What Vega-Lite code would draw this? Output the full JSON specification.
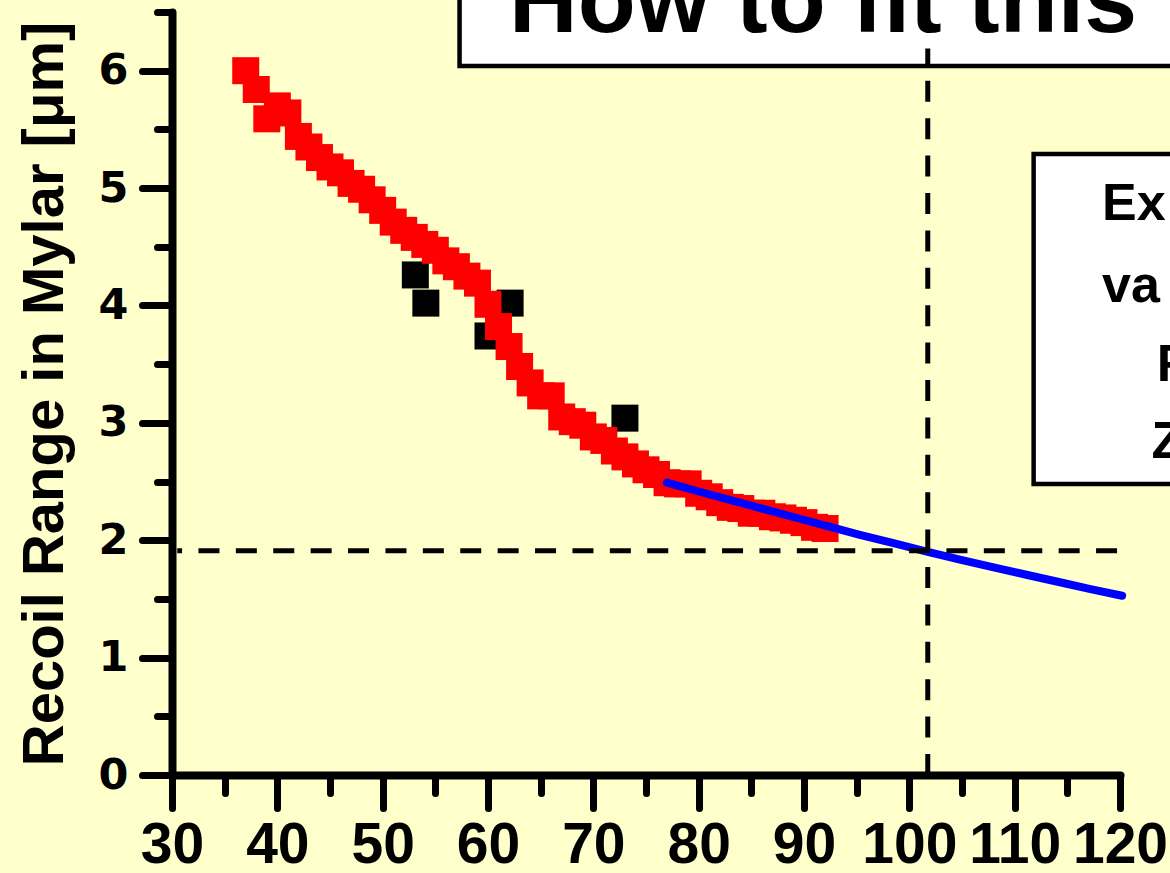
{
  "$schema": "https://vega.github.io/schema/vega-lite/v6.json",
  "width": 948,
  "height": 763,
  "autosize": {"type": "none"},
  "padding": {"left": 172, "top": 12, "right": 50, "bottom": 98},
  "background": "#FFFFCC",
  "config": {"view": {"stroke": null}, "axis": {"grid": false}},
  "datasets": {
    "red": [
      {"energy": 37, "range": 6.00}, {"energy": 38, "range": 5.84}, {"energy": 39, "range": 5.59}, {"energy": 40, "range": 5.70},
      {"energy": 41, "range": 5.64}, {"energy": 42, "range": 5.44}, {"energy": 43, "range": 5.35}, {"energy": 44, "range": 5.26},
      {"energy": 45, "range": 5.18}, {"energy": 46, "range": 5.13}, {"energy": 47, "range": 5.04}, {"energy": 48, "range": 4.99},
      {"energy": 49, "range": 4.90}, {"energy": 50, "range": 4.81}, {"energy": 51, "range": 4.71}, {"energy": 52, "range": 4.64},
      {"energy": 53, "range": 4.58}, {"energy": 54, "range": 4.52}, {"energy": 55, "range": 4.47}, {"energy": 56, "range": 4.38},
      {"energy": 57, "range": 4.33}, {"energy": 58, "range": 4.25}, {"energy": 59, "range": 4.19}, {"energy": 60, "range": 4.01},
      {"energy": 61, "range": 3.82}, {"energy": 62, "range": 3.65}, {"energy": 63, "range": 3.48}, {"energy": 64, "range": 3.34},
      {"energy": 65, "range": 3.23}, {"energy": 66, "range": 3.23}, {"energy": 67, "range": 3.05}, {"energy": 68, "range": 3.01},
      {"energy": 69, "range": 2.98}, {"energy": 70, "range": 2.88}, {"energy": 71, "range": 2.85}, {"energy": 72, "range": 2.76},
      {"energy": 73, "range": 2.71}, {"energy": 74, "range": 2.65}, {"energy": 75, "range": 2.60}, {"energy": 76, "range": 2.56},
      {"energy": 77, "range": 2.49}, {"energy": 78, "range": 2.48}, {"energy": 79, "range": 2.48}, {"energy": 80, "range": 2.40},
      {"energy": 81, "range": 2.37}, {"energy": 82, "range": 2.32}, {"energy": 83, "range": 2.28}, {"energy": 84, "range": 2.27},
      {"energy": 85, "range": 2.23}, {"energy": 86, "range": 2.23}, {"energy": 87, "range": 2.20}, {"energy": 88, "range": 2.19},
      {"energy": 89, "range": 2.17}, {"energy": 90, "range": 2.15}, {"energy": 91, "range": 2.11}, {"energy": 92, "range": 2.10}
    ],
    "black": [
      {"energy": 53.1, "range": 4.26}, {"energy": 54.1, "range": 4.02}, {"energy": 60.0, "range": 3.74},
      {"energy": 62.1, "range": 4.02}, {"energy": 73.0, "range": 3.04}
    ],
    "fit": [
      {"energy": 77.0, "range": 2.49}, {"energy": 80.0, "range": 2.415}, {"energy": 83.3, "range": 2.336}, {"energy": 86.5, "range": 2.258},
      {"energy": 89.6, "range": 2.183}, {"energy": 92.5, "range": 2.113}, {"energy": 95.3, "range": 2.046}, {"energy": 98.5, "range": 1.975},
      {"energy": 101.75, "range": 1.90}, {"energy": 104.8, "range": 1.835}, {"energy": 107.9, "range": 1.771}, {"energy": 111.0, "range": 1.708},
      {"energy": 114.3, "range": 1.642}, {"energy": 117.2, "range": 1.584}, {"energy": 120.2, "range": 1.527}
    ],
    "boxes": [
      {"x1": 57.3, "x2": 140, "y1": 6.04, "y2": 7.6},
      {"x1": 111.8, "x2": 140, "y1": 2.48, "y2": 5.29}
    ],
    "hline": [{"x1": 119.72, "x2": 30.5, "y": 1.91}],
    "vline": [{"x": 101.75, "y1": 0, "y2": 6.19}],
    "title": [{"x": 62.0, "y": 6.33, "t": "How to fit this"}],
    "boxtext": [
      {"x": 118.3, "y": 4.727, "t": "Ex"},
      {"x": 118.3, "y": 4.029, "t": "va"},
      {"x": 123.5, "y": 3.356, "t": "R"},
      {"x": 123.0, "y": 2.70, "t": "Z"}
    ]
  },
  "layer": [
    {
      "data": {"name": "black"},
      "mark": {"type": "square", "size": 729, "color": "#000000", "opacity": 1, "filled": true},
      "encoding": {
        "x": {"field": "energy", "type": "quantitative", "scale": {"domain": [30, 120], "nice": false, "zero": false},
          "axis": {"orient": "bottom", "values": [35, 45, 55, 65, 75, 85, 95, 105, 115], "tickSize": 18, "tickWidth": 7, "tickColor": "#000000", "tickCap": "round", "domain": false, "labels": false, "title": null}},
        "y": {"field": "range", "type": "quantitative", "scale": {"domain": [0, 6.5], "nice": false, "zero": false},
          "axis": {"orient": "left", "values": [0.5, 1.5, 2.5, 3.5, 4.5, 5.5, 6.5], "tickSize": 15, "tickWidth": 7, "tickColor": "#000000", "tickCap": "round", "domain": false, "labels": false, "title": null}}
      }
    },
    {
      "data": {"name": "red"},
      "mark": {"type": "square", "size": 729, "color": "#FF0000", "opacity": 1, "filled": true},
      "encoding": {
        "x": {"field": "energy", "type": "quantitative", "scale": {"domain": [30, 120], "nice": false, "zero": false},
          "axis": {"orient": "bottom", "values": [30, 40, 50, 60, 70, 80, 90, 100, 110, 120], "format": "d", "tickSize": 33, "tickWidth": 7, "tickColor": "#000000", "tickCap": "round",
            "domainColor": "#000000", "domainWidth": 8, "domainCap": "round",
            "labelFont": "Liberation Sans", "labelFontWeight": "bold", "labelFontSize": 57, "labelColor": "#000000", "labelPadding": 9,
            "labelOverlap": false, "labelFlush": false, "labelBound": false, "title": null}},
        "y": {"field": "range", "type": "quantitative", "scale": {"domain": [0, 6.5], "nice": false, "zero": false},
          "axis": {"orient": "left", "values": [0, 1, 2, 3, 4, 5, 6], "format": "d", "tickSize": 30, "tickWidth": 7, "tickColor": "#000000", "tickCap": "round",
            "domainColor": "#000000", "domainWidth": 8, "domainCap": "round",
            "labelFont": "DejaVu Sans", "labelFontWeight": "bold", "labelFontSize": 43, "labelColor": "#000000", "labelPadding": 14,
            "labelOverlap": false, "labelFlush": false, "labelBound": false,
            "title": "Recoil Range in Mylar [μm]", "titleFont": "Liberation Sans", "titleFontWeight": "bold", "titleFontSize": 58, "titleColor": "#000000", "titlePadding": 24}}
      }
    },
    {
      "data": {"name": "fit"},
      "mark": {"type": "line", "color": "#0000FF", "strokeWidth": 8, "strokeCap": "round", "strokeJoin": "round"},
      "encoding": {
        "x": {"field": "energy", "type": "quantitative", "axis": null},
        "y": {"field": "range", "type": "quantitative", "axis": null}
      }
    },
    {
      "data": {"name": "boxes"},
      "mark": {"type": "rect", "fill": "#FFFFFF", "stroke": "#000000", "strokeWidth": 4.5},
      "encoding": {
        "x": {"field": "x1", "type": "quantitative", "axis": null},
        "x2": {"field": "x2"},
        "y": {"field": "y1", "type": "quantitative", "axis": null},
        "y2": {"field": "y2"}
      }
    },
    {
      "data": {"name": "hline"},
      "mark": {"type": "rule", "color": "#000000", "strokeWidth": 5, "strokeDash": [21, 16.4]},
      "encoding": {
        "x": {"field": "x1", "type": "quantitative", "axis": null},
        "x2": {"field": "x2"},
        "y": {"field": "y", "type": "quantitative", "axis": null}
      }
    },
    {
      "data": {"name": "vline"},
      "mark": {"type": "rule", "color": "#000000", "strokeWidth": 5, "strokeDash": [21, 16.4]},
      "encoding": {
        "x": {"field": "x", "type": "quantitative", "axis": null},
        "y": {"field": "y1", "type": "quantitative", "axis": null},
        "y2": {"field": "y2"}
      }
    },
    {
      "data": {"name": "title"},
      "mark": {"type": "text", "align": "left", "baseline": "alphabetic", "font": "Liberation Sans", "fontWeight": "bold", "fontSize": 95, "color": "#000000"},
      "encoding": {
        "x": {"field": "x", "type": "quantitative", "axis": null},
        "y": {"field": "y", "type": "quantitative", "axis": null},
        "text": {"field": "t"}
      }
    },
    {
      "data": {"name": "boxtext"},
      "mark": {"type": "text", "align": "left", "baseline": "alphabetic", "font": "Liberation Sans", "fontWeight": "bold", "fontSize": 52, "color": "#000000"},
      "encoding": {
        "x": {"field": "x", "type": "quantitative", "axis": null},
        "y": {"field": "y", "type": "quantitative", "axis": null},
        "text": {"field": "t"}
      }
    }
  ],
  "resolve": {"axis": {"x": "independent", "y": "independent"}}
}
